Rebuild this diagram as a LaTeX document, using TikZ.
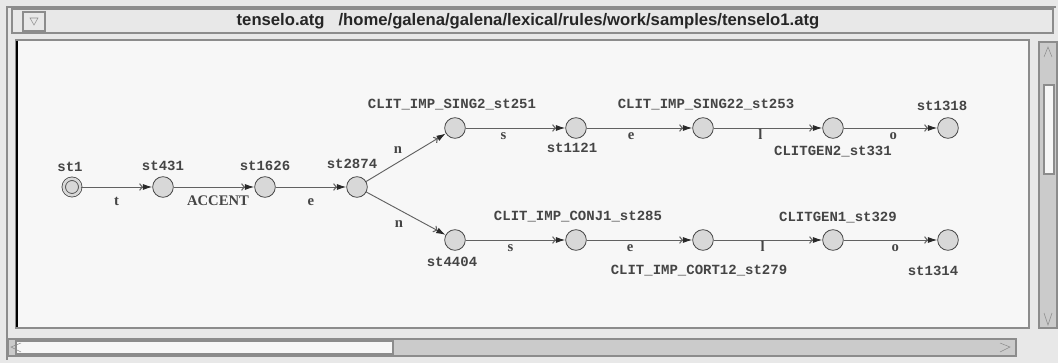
\documentclass[tikz,border=0pt]{standalone}
\usepackage{fontspec}
\usetikzlibrary{arrows.meta}
\newfontfamily\statefont{Liberation Mono}
\newfontfamily\edgefont{Liberation Serif}
\newfontfamily\titlefont{Liberation Sans}
\definecolor{canvas}{HTML}{F7F7F7}
\definecolor{chrome}{HTML}{E8E8E8}
\definecolor{bar}{HTML}{CBCBCB}
\definecolor{edge}{HTML}{8C8C8C}
\definecolor{nodefill}{HTML}{D8D8D8}
\definecolor{ink}{HTML}{454545}
\tikzset{
  state/.style={circle, draw=ink, fill=nodefill, line width=0.6pt,
    minimum size=15.5pt, inner sep=0pt},
  startstate/.style={state, minimum size=12.4pt, double=nodefill,
    double distance=2pt},
  slabel/.style={font=\statefont\bfseries\fontsize{10.5}{12}\selectfont,
    text=ink, inner sep=0pt},
  elabel/.style={font=\edgefont\bfseries\fontsize{11}{13}\selectfont,
    text=ink, inner sep=0pt, text height=1.6ex, text depth=0pt},
  trans/.style={draw=ink!85, line width=0.7pt,
    -{Straight Barb[length=2pt,width=5pt,line width=0.8pt]Latex[length=7pt,width=4.5pt,color=ink!60!black]}},
  frame/.style={draw=edge, line width=0.8pt}
}
\begin{document}
\begin{tikzpicture}[x=0.75pt,y=-0.75pt]
\useasboundingbox (0,0) rectangle (1058,363);
% window
\fill[chrome] (0,0) rectangle (1058,363);
\draw[frame] (7,360) -- (7,7) -- (1056,7);
\draw[frame, fill=chrome] (12,9) rectangle (1053,33);
\draw[frame, fill=chrome] (23,12) rectangle (45,31);
\draw[edge] (30,18) -- (38,18) -- (34,25) -- cycle;
\node[font=\titlefont\bfseries\fontsize{12.5}{14}\selectfont, text=black!85] (title) at (528,21)
  {tenselo.atg\ \ \ /home/galena/galena/lexical/rules/work/samples/tenselo1.atg};
% canvas
\fill[canvas] (16,40) rectangle (1029,328);
\draw[frame] (16,40) rectangle (1029,328);
\draw[black, line width=2pt] (17,41) -- (17,327);
% scroll bars
\draw[frame, fill=bar] (1039,42) rectangle (1057,328);
\draw[frame, fill=canvas] (1044,85) rectangle (1054,174);
\draw[edge] (1044,57) -- (1048,47) -- (1052,57);
\draw[edge] (1044,313) -- (1048,325) -- (1052,313);
\draw[frame, fill=bar] (8,339) rectangle (1016,356);
\draw[frame, fill=canvas] (16,341) rectangle (393,354);
\draw[edge] (21,343) -- (11,347) -- (21,352);
\draw[edge] (1000,343) -- (1010,347) -- (1000,352);
% states
\node[startstate] (st1) at (72,187) {};
\node[state] (st431) at (163,187) {};
\node[state] (st1626) at (265,187) {};
\node[state] (st2874) at (357,187) {};
\node[state] (st251) at (455,128) {};
\node[state] (st1121) at (576,128) {};
\node[state] (st253) at (703,128) {};
\node[state] (st331) at (833,128) {};
\node[state] (st1318) at (948,128) {};
\node[state] (st4404) at (455,240) {};
\node[state] (st285) at (576,240) {};
\node[state] (st279) at (703,240) {};
\node[state] (st329) at (833,240) {};
\node[state] (st1314) at (948,240) {};
% state names
\node[slabel] (n-st1) at (70,167) {st1};
\node[slabel] (n-st431) at (163,166) {st431};
\node[slabel] (n-st1626) at (265,166) {st1626};
\node[slabel] (n-st2874) at (352,164) {st2874};
\node[slabel] (n-st251) at (452,105) {CLIT\_IMP\_SING2\_st251};
\node[slabel] (n-st1121) at (572,148) {st1121};
\node[slabel] (n-st253) at (706,105) {CLIT\_IMP\_SING22\_st253};
\node[slabel] (n-st331) at (833,152) {CLITGEN2\_st331};
\node[slabel] (n-st1318) at (942,106) {st1318};
\node[slabel] (n-st4404) at (452,262) {st4404};
\node[slabel] (n-st285) at (578,217) {CLIT\_IMP\_CONJ1\_st285};
\node[slabel] (n-st279) at (699,271) {CLIT\_IMP\_CORT12\_st279};
\node[slabel] (n-st329) at (838,218) {CLITGEN1\_st329};
\node[slabel] (n-st1314) at (933,271) {st1314};
% transitions
\draw[trans] (st1) -- node[elabel, below=7pt] (t-t) {t} (st431);
\draw[trans] (st431) -- node[elabel, below=7pt, pos=0.55] (t-accent) {ACCENT} (st1626);
\draw[trans] (st1626) -- node[elabel, below=7pt] (t-e) {e} (st2874);
\draw[trans] (st2874) -- node[elabel, above=6pt, pos=0.4] (t-n1) {n} (st251);
\draw[trans] (st2874) -- node[elabel, below=6pt, pos=0.41] (t-n2) {n} (st4404);
\draw[trans] (st251) -- node[elabel, below=1.5pt, pos=0.38] (t-s1) {s} (st1121);
\draw[trans] (st1121) -- node[elabel, below=1.5pt, pos=0.42] (t-e1) {e} (st253);
\draw[trans] (st253) -- node[elabel, below=1.5pt, pos=0.43] (t-l1) {l} (st331);
\draw[trans] (st331) -- node[elabel, below=1.5pt, pos=0.53] (t-o1) {o} (st1318);
\draw[trans] (st4404) -- node[elabel, below=1.5pt, pos=0.45] (t-s2) {s} (st285);
\draw[trans] (st285) -- node[elabel, below=1.5pt, pos=0.41] (t-e2) {e} (st279);
\draw[trans] (st279) -- node[elabel, below=1.5pt, pos=0.45] (t-l2) {l} (st329);
\draw[trans] (st329) -- node[elabel, below=1.5pt, pos=0.55] (t-o2) {o} (st1314);
\end{tikzpicture}
\end{document}
